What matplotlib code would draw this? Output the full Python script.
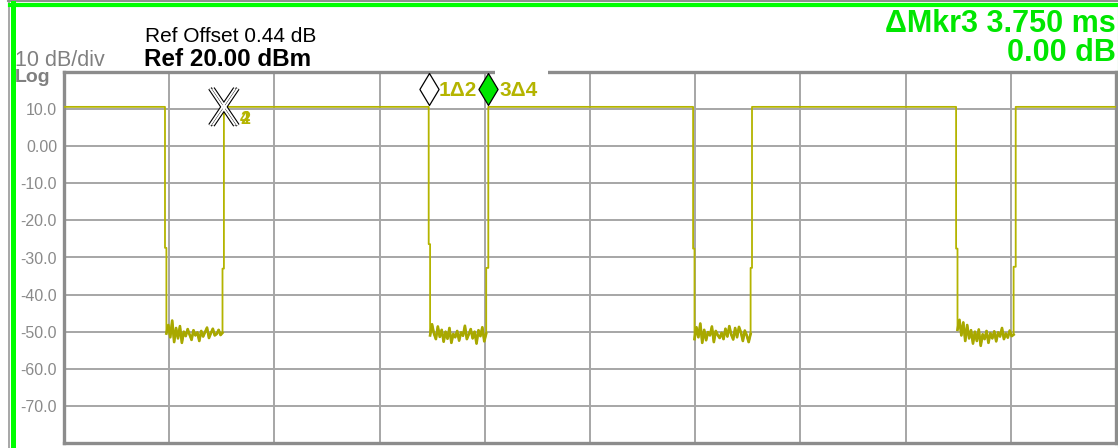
import numpy as np
import matplotlib.pyplot as plt
from matplotlib.lines import Line2D
from matplotlib.patches import Rectangle

plt.rcParams['font.family'] = ['Liberation Sans', 'DejaVu Sans']

W, H = 1118, 448

# sweep: 10 div x 1.5 ms, 10 dB/div from Ref 20 dBm
sweep_ms = 15.0
ref_level = 20.0
bottom_level = -80.0
ytick_vals = [10, 0, -10, -20, -30, -40, -50, -60, -70]
ytick_labels = ['10.0', '0.00', '-10.0', '-20.0', '-30.0', '-40.0', '-50.0', '-60.0', '-70.0']

# pulse trace (time in ms, level in dBm)
high_level = 10.6
t_fall = [1.44, 5.20, 8.97, 12.72]
t_fall_low = [1.46, 5.22, 8.99, 12.74]
t_rise = [2.26, 6.02, 9.79, 13.54]
t_rise_top = [2.28, 6.05, 9.81, 13.57]
fall_step = [-27.4, -26.4, -27.6, -27.6]
rise_step = [-33.0, -32.8, -32.8, -32.5]

noise1 = [-50.5, -48.2, -51.5, -47.0, -52.8, -49.0, -51.8, -48.5, -53.0, -50.0,
          -51.2, -49.3, -50.8, -52.2, -49.6, -51.0, -50.2, -52.5, -49.8, -51.3,
          -50.1, -48.9, -51.7, -50.4, -49.2, -51.0, -50.6, -49.5, -50.9, -50.3]
noise2 = [-51.0, -48.0, -50.5, -52.0, -48.6, -51.4, -49.5, -52.7, -50.0, -51.9,
          -49.0, -53.0, -50.6, -51.5, -49.8, -52.4, -50.2, -51.1, -48.4, -52.0,
          -50.7, -49.3, -51.8, -50.0, -53.2, -49.6, -51.2, -48.8, -52.6, -50.5]
noise3 = [-52.0, -48.8, -51.5, -47.8, -53.0, -49.5, -52.3, -50.1, -51.0, -48.6,
          -52.8, -49.8, -50.9, -51.7, -50.3, -52.0, -49.2, -51.3, -48.5, -50.8,
          -52.1, -49.0, -51.5, -48.7, -50.2, -52.5, -49.7, -51.0, -52.8, -50.6]
noise4 = [-49.5, -46.8, -51.0, -47.5, -52.5, -48.2, -51.8, -49.6, -53.2, -50.0,
          -52.5, -49.4, -53.8, -50.7, -52.0, -49.8, -53.0, -50.4, -51.8, -49.9,
          -52.6, -50.2, -51.3, -49.0, -52.0, -50.5, -51.6, -49.7, -51.2, -50.8]
noise = [noise1, noise2, noise3, noise4]

# markers
mkr1_t, mkr3_t = 5.20, 6.05
mkr_diamond_y = 15.4
mkr_ref_t = [2.26, 2.30]

trace_col = '#b4b400'
noise_col = '#a8a800'
grid_col = '#a6a6a6'
frame_col = '#8c8c8c'
green = '#00e600'

# build trace
tx, ty = [0.0], [high_level]
noise_x = []
for i in range(4):
    nx = np.linspace(t_fall_low[i], t_rise[i], len(noise[i]))
    noise_x.append(nx)
    tx += [t_fall[i], t_fall[i], t_fall_low[i]] + list(nx) + [t_rise[i], t_rise_top[i], t_rise_top[i]]
    ty += [high_level, fall_step[i], fall_step[i]] + noise[i] + [rise_step[i], rise_step[i], high_level]
tx.append(sweep_ms)
ty.append(high_level)

fig = plt.figure(figsize=(W / 100, H / 100), dpi=100)
ax = fig.add_axes([64 / W, 1 - 443 / H, (1116 - 64) / W, (443 - 72) / H])
ax.set_xlim(0, sweep_ms)
ax.set_ylim(bottom_level, ref_level)
ax.set_xticks(np.arange(0, sweep_ms + 0.01, 1.5))
ax.set_xticklabels([])
ax.set_yticks(ytick_vals)
ax.set_yticklabels(ytick_labels)
ax.tick_params(length=0, labelsize=11.5, labelcolor='#8a8a8a', pad=5)
ax.grid(True, color=grid_col, lw=1.4)
ax.set_axisbelow(True)
for s in ax.spines.values():
    s.set_color(frame_col)
    s.set_linewidth(2.4)

ax.plot(tx, ty, color=trace_col, lw=1.3, zorder=3)
for nx, nv in zip(noise_x, noise):
    ax.plot(nx, nv, color=noise_col, lw=1.9, zorder=3)

# delta marker diamonds
diamond = [(0, 1), (0.6, 0), (0, -1), (-0.6, 0), (0, 1)]
ax.plot([mkr1_t], [mkr_diamond_y], marker=diamond, ms=23, mfc='white', mec='black',
        mew=0.9, ls='none', clip_on=False, zorder=6)
ax.plot([mkr3_t], [mkr_diamond_y], marker=diamond, ms=23, mfc=green, mec='black',
        mew=0.9, ls='none', clip_on=False, zorder=6)

# reference markers (X shapes)
hx, hy = 12.5 / 70.13, 18.5 / 3.71
for t in mkr_ref_t:
    for dy in [-1, 1]:
        xs = [t - hx, t + hx]
        ys = [high_level + hy * dy, high_level - hy * dy]
        ax.plot(xs, ys, color='black', lw=3.0, solid_capstyle='butt', zorder=7)
        ax.plot(xs, ys, color='white', lw=1.4, solid_capstyle='butt', zorder=8)

def fx(px):
    return px / W

def fy(py):
    return 1 - py / H

# marker labels
fig.text(fx(240), fy(124), '2', color=trace_col, fontsize=13, fontweight='bold', va='baseline', ha='left')
fig.text(fx(240), fy(124), '4', color=trace_col, fontsize=13, fontweight='bold', va='baseline', ha='left')
fig.add_artist(Rectangle((fx(495), fy(77)), (548 - 495) / W, 8 / H, transform=fig.transFigure,
                         facecolor='white', edgecolor='none', zorder=5))
fig.text(fx(439), fy(95.5), '1\u03942', color=trace_col, fontsize=15, fontweight='bold', va='baseline', zorder=6)
fig.text(fx(500), fy(95.5), '3\u03944', color=trace_col, fontsize=15, fontweight='bold', va='baseline', zorder=6)

# header text
fig.text(fx(15), fy(66), '10 dB/div', color='#808080', fontsize=15.5, va='baseline')
fig.text(fx(15), fy(82.5), 'Log', color='#808080', fontsize=14, fontweight='bold', va='baseline')
fig.text(fx(145), fy(42), 'Ref Offset 0.44 dB', color='black', fontsize=15, va='baseline')
fig.text(fx(144), fy(66), 'Ref 20.00 dBm', color='black', fontsize=17.5, fontweight='bold', va='baseline')
fig.text(fx(1116), fy(32), '\u0394Mkr3 3.750 ms', color=green, fontsize=22, fontweight='bold',
         va='baseline', ha='right')
fig.text(fx(1116), fy(61), '0.00 dB', color=green, fontsize=22, fontweight='bold',
         va='baseline', ha='right')

# window borders
fig.add_artist(Line2D([fx(8.5), fx(8.5)], [fy(0), fy(448)], color='#909090', lw=1.1, transform=fig.transFigure))
fig.add_artist(Line2D([fx(8), fx(1118)], [fy(1), fy(1)], color='#909090', lw=1.5, transform=fig.transFigure))
fig.add_artist(Line2D([fx(12.5), fx(12.5)], [fy(3), fy(448)], color='#00ff00', lw=3.6, transform=fig.transFigure))
fig.add_artist(Line2D([fx(10), fx(1118)], [fy(5), fy(5)], color='#00ff00', lw=3.0, transform=fig.transFigure))
fig.add_artist(Line2D([fx(1117.5), fx(1117.5)], [fy(3), fy(448)], color='#7ccf7c', lw=0.8, transform=fig.transFigure))

fig.savefig('out.png', dpi=100)
